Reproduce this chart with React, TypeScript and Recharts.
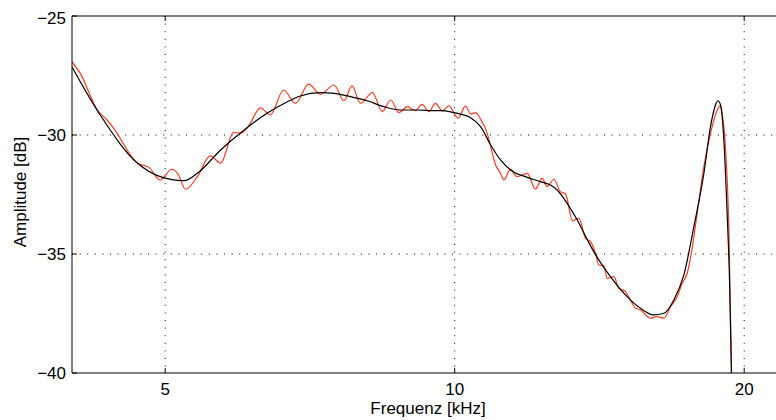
import React from 'react';
import { LineChart, Line, XAxis, YAxis, CartesianGrid } from 'recharts';

// Frequency axis (kHz, logarithmic) and amplitude axis (dB)
const X_TICKS = [5, 10, 20];
const Y_TICKS = [-40, -35, -30, -25];
const X_DOMAIN = [4, 22];
const Y_DOMAIN = [-40, -25];
const Y_GRID = [-35, -30];

// Smoothed response (black)
const blackFreq = [4.0, 4.28, 4.68, 4.94, 5.23, 5.40, 5.71, 6.04, 6.38, 6.70, 6.91, 7.25, 7.49, 7.79, 8.11, 8.44, 8.78, 9.14, 9.51, 9.67, 9.98, 10.14, 10.38, 10.64, 10.90, 11.16, 11.43, 11.90, 12.28, 12.58, 12.78, 13.09, 13.41, 13.73, 13.95, 14.52, 15.11, 15.60, 16.11, 16.50, 16.90, 17.31, 17.73, 18.16, 18.45, 18.67, 18.78, 18.90, 19.05, 19.20, 19.31, 19.40, 19.49];
const blackAmp = [-27.14, -29.16, -31.19, -31.75, -31.92, -31.61, -30.63, -29.79, -29.09, -28.60, -28.36, -28.22, -28.25, -28.39, -28.56, -28.81, -28.95, -28.95, -28.98, -28.98, -29.06, -29.12, -29.26, -29.65, -30.42, -31.05, -31.47, -31.78, -31.96, -32.10, -32.31, -32.87, -33.57, -34.38, -34.90, -35.95, -36.79, -37.28, -37.56, -37.49, -36.93, -35.88, -33.85, -31.61, -29.65, -28.74, -28.56, -28.74, -30.21, -33.29, -36.09, -40.01, -44];

// Measured response (red)
const redFreq = [4.0, 4.08, 4.25, 4.35, 4.42, 4.68, 4.81, 4.94, 5.08, 5.15, 5.25, 5.40, 5.57, 5.71, 5.89, 5.99, 6.08, 6.13, 6.28, 6.43, 6.64, 6.83, 7.05, 7.25, 7.49, 7.67, 7.82, 7.98, 8.21, 8.41, 8.58, 8.75, 8.93, 9.10, 9.25, 9.40, 9.55, 9.71, 9.86, 10.08, 10.26, 10.39, 10.51, 10.64, 10.81, 10.90, 11.03, 11.16, 11.25, 11.43, 11.61, 11.90, 12.13, 12.33, 12.48, 12.68, 12.88, 13.04, 13.26, 13.46, 13.68, 13.84, 14.01, 14.12, 14.29, 14.41, 14.64, 14.81, 15.05, 15.23, 15.42, 15.60, 15.98, 16.24, 16.50, 16.77, 17.04, 17.24, 17.45, 17.63, 17.87, 18.16, 18.45, 18.75, 18.87, 18.97, 19.12, 19.28, 19.40, 19.49];
const redAmp = [-26.93, -27.41, -28.95, -29.37, -29.72, -31.19, -31.36, -31.89, -31.44, -31.61, -32.28, -31.75, -30.88, -31.18, -29.89, -29.92, -29.72, -29.51, -28.86, -29.16, -28.11, -28.67, -27.86, -28.29, -27.90, -28.56, -27.94, -28.67, -28.22, -29.02, -28.53, -29.06, -28.81, -28.98, -28.71, -29.02, -28.67, -28.99, -28.78, -29.29, -28.79, -29.12, -29.06, -29.33, -29.93, -30.49, -31.26, -31.61, -31.89, -31.43, -31.75, -31.61, -32.28, -31.82, -32.17, -31.86, -32.38, -32.48, -33.61, -33.50, -34.34, -34.48, -34.97, -35.46, -35.50, -36.02, -35.95, -36.44, -36.58, -36.93, -37.28, -37.35, -37.70, -37.63, -37.70, -37.21, -36.79, -36.23, -35.81, -34.92, -33.29, -31.33, -29.93, -28.95, -28.78, -29.09, -30.49, -33.99, -40.01, -44];

const X_LABEL = 'Frequenz [kHz]';
const Y_LABEL = 'Amplitude [dB]';

const blackData = blackFreq.map((f, i) => ({ f, amp: blackAmp[i] }));
const redData = redFreq.map((f, i) => ({ f, amp: redAmp[i] }));

const FONT = '"Liberation Sans", Arial, Helvetica, sans-serif';
const tickStyle = { fill: '#000', fontSize: 17, fontFamily: FONT };
const fmt = (v: number) => String(v).replace('-', '\u2212');

const applyScale = (s: any, v: number): number | undefined => {
  if (!s) return undefined;
  if (typeof s === 'function') return s(v);
  if (typeof s.map === 'function') return s.map(v);
  if (typeof s.scale === 'function') return s.scale(v);
  return undefined;
};
const vGen = (props: any) =>
  X_TICKS.map((t) => applyScale(props?.xAxis?.scale, t)).filter((v) => typeof v === 'number' && isFinite(v as number)) as number[];
const hGen = (props: any) =>
  Y_GRID.map((t) => applyScale(props?.yAxis?.scale, t)).filter((v) => typeof v === 'number' && isFinite(v as number)) as number[];

export default function App() {
  return (
    <div
      style={{
        position: 'fixed',
        left: 8,
        top: 8,
        width: 768,
        height: 412,
        overflow: 'hidden',
        fontFamily: FONT,
        background: '#fff',
      }}
    >
      <LineChart width={790} height={412} margin={{ top: 7, right: 14, bottom: 0, left: 0 }}>
        <CartesianGrid
          stroke="#000"
          strokeDasharray="1 6.6"
          strokeWidth={1}
          verticalCoordinatesGenerator={vGen}
          horizontalCoordinatesGenerator={hGen}
        />
        <XAxis
          dataKey="f"
          type="number"
          scale="log"
          domain={X_DOMAIN}
          ticks={X_TICKS}
          allowDataOverflow
          height={47}
          tickSize={-5}
          tickMargin={15}
          tick={tickStyle}
          tickFormatter={fmt}
          stroke="#000"
          axisLine={{ stroke: '#000', strokeWidth: 1 }}
          tickLine={{ stroke: '#000' }}
        />
        <XAxis
          xAxisId="top"
          orientation="top"
          dataKey="f"
          type="number"
          scale="log"
          domain={X_DOMAIN}
          ticks={X_TICKS}
          allowDataOverflow
          height={1}
          tickSize={-5}
          tickMargin={0}
          tick={() => <g />}
          stroke="#000"
          axisLine={{ stroke: '#000', strokeWidth: 1 }}
          tickLine={{ stroke: '#000' }}
        />
        <YAxis
          type="number"
          domain={Y_DOMAIN}
          ticks={Y_TICKS}
          allowDataOverflow
          width={64}
          tickSize={-5}
          tickMargin={11}
          tick={tickStyle}
          tickFormatter={fmt}
          axisLine={{ stroke: '#000', strokeWidth: 1 }}
          tickLine={{ stroke: '#000' }}
        />
        <Line
          data={redData}
          dataKey="amp"
          type="monotone"
          stroke="#ff3b1f"
          strokeWidth={1.2}
          dot={false}
          activeDot={false}
          isAnimationActive={false}
        />
        <Line
          data={blackData}
          dataKey="amp"
          type="monotone"
          stroke="#000"
          strokeWidth={1.2}
          dot={false}
          activeDot={false}
          isAnimationActive={false}
        />
      </LineChart>
      <div
        style={{
          position: 'absolute',
          left: 420,
          top: 392,
          transform: 'translateX(-50%)',
          fontSize: 17,
          lineHeight: '17px',
          whiteSpace: 'nowrap',
          color: '#000',
        }}
      >
        {X_LABEL}
      </div>
      <div
        style={{
          position: 'absolute',
          left: 12,
          top: 184,
          transform: 'translate(-50%, -50%) rotate(-90deg)',
          fontSize: 17,
          lineHeight: '17px',
          whiteSpace: 'nowrap',
          color: '#000',
        }}
      >
        {Y_LABEL}
      </div>
    </div>
  );
}
